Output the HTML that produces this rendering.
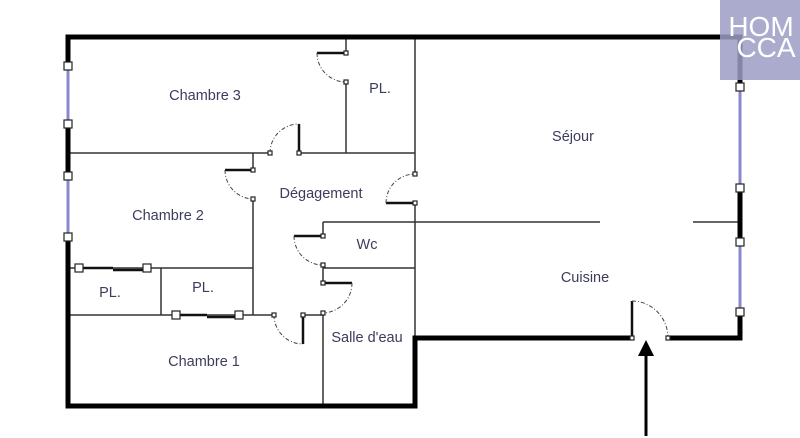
<!DOCTYPE html>
<html><head><meta charset="utf-8"><style>
html,body{margin:0;padding:0;background:#fff;}
svg{display:block;}
text{font-family:"Liberation Sans",sans-serif;font-size:14.5px;fill:#3c3c5c;text-anchor:middle;}
</style></head><body>
<svg width="800" height="438" viewBox="0 0 800 438">
<g stroke="#333" stroke-width="1.5" fill="none">
<line x1="68" y1="153" x2="270" y2="153"/><line x1="299" y1="153" x2="415" y2="153"/>
<line x1="346" y1="37" x2="346" y2="53"/><line x1="346" y1="82" x2="346" y2="153"/>
<line x1="415" y1="37" x2="415" y2="174"/><line x1="415" y1="203" x2="415" y2="338"/>
<line x1="253" y1="153" x2="253" y2="170"/><line x1="253" y1="199" x2="253" y2="315"/>
<line x1="323" y1="222" x2="600" y2="222"/><line x1="693" y1="222" x2="740" y2="222"/>
<line x1="323" y1="222" x2="323" y2="236"/><line x1="323" y1="265" x2="323" y2="283"/><line x1="323" y1="313" x2="323" y2="406"/>
<line x1="323" y1="268" x2="415" y2="268"/>
<line x1="68" y1="268" x2="253" y2="268"/>
<line x1="161" y1="268" x2="161" y2="315"/>
<line x1="68" y1="315" x2="274" y2="315"/><line x1="303" y1="315" x2="323" y2="315"/>
</g>
<g stroke="#111" stroke-width="2.5">
<line x1="317" y1="53" x2="346" y2="53"/>
<line x1="299" y1="124" x2="299" y2="153"/>
<line x1="225" y1="170" x2="253" y2="170"/>
<line x1="386" y1="203" x2="415" y2="203"/>
<line x1="294" y1="236" x2="323" y2="236"/>
<line x1="323" y1="283" x2="352" y2="283"/>
<line x1="303" y1="315" x2="303" y2="344"/>
<line x1="632" y1="301" x2="632" y2="338"/>
<line x1="79" y1="268" x2="113" y2="268"/><line x1="113" y1="270" x2="147" y2="270"/>
<line x1="176" y1="315" x2="207" y2="315"/><line x1="207" y1="317" x2="239" y2="317"/>
</g>
<g stroke="#444" stroke-width="1" fill="none" stroke-dasharray="4,2,1,2">
<path d="M317 53 A29 29 0 0 0 346 82"/>
<path d="M270 153 A29 29 0 0 1 299 124"/>
<path d="M225 170 A29 29 0 0 0 253 199"/>
<path d="M386 203 A29 29 0 0 1 415 174"/>
<path d="M294 236 A29 29 0 0 0 323 265"/>
<path d="M352 283 A30 30 0 0 1 323 313"/>
<path d="M274 315 A29 29 0 0 0 303 344"/>
<path d="M632 301 A36 37 0 0 1 668 338"/>
</g>
<g stroke="#000" stroke-width="5" fill="none" stroke-linejoin="miter">
<path d="M68 66 L68 37 L740 37 L740 87"/>
<line x1="68" y1="124" x2="68" y2="176"/>
<path d="M68 237 L68 406 L415 406 L415 338 L632 338"/>
<path d="M668 338 L740 338 L740 312"/>
<line x1="740" y1="188" x2="740" y2="242"/>
</g>
<g stroke="#8888cc" stroke-width="3">
<line x1="68" y1="66" x2="68" y2="124"/><line x1="68" y1="176" x2="68" y2="237"/>
<line x1="740" y1="87" x2="740" y2="188"/><line x1="740" y1="242" x2="740" y2="312"/>
</g>
<g fill="#fff" stroke="#222" stroke-width="1.2">
<rect x="64" y="62" width="8" height="8"/><rect x="64" y="120" width="8" height="8"/>
<rect x="64" y="172" width="8" height="8"/><rect x="64" y="233" width="8" height="8"/>
<rect x="736" y="83" width="8" height="8"/><rect x="736" y="184" width="8" height="8"/>
<rect x="736" y="238" width="8" height="8"/><rect x="736" y="308" width="8" height="8"/>
<rect x="75" y="264" width="8" height="8"/><rect x="143" y="264" width="8" height="8"/>
<rect x="172" y="311" width="8" height="8"/><rect x="235" y="311" width="8" height="8"/>
<rect x="344" y="51" width="4" height="4"/><rect x="344" y="80" width="4" height="4"/>
<rect x="268" y="151" width="4" height="4"/><rect x="297" y="151" width="4" height="4"/>
<rect x="251" y="168" width="4" height="4"/><rect x="251" y="197" width="4" height="4"/>
<rect x="413" y="172" width="4" height="4"/><rect x="413" y="201" width="4" height="4"/>
<rect x="321" y="234" width="4" height="4"/><rect x="321" y="263" width="4" height="4"/>
<rect x="321" y="281" width="4" height="4"/><rect x="321" y="311" width="4" height="4"/>
<rect x="272" y="313" width="4" height="4"/><rect x="301" y="313" width="4" height="4"/>
<rect x="630" y="336" width="4" height="4"/><rect x="666" y="336" width="4" height="4"/>
</g>
<line x1="646" y1="436" x2="646" y2="352" stroke="#000" stroke-width="3"/>
<polygon points="646,340 638,356 654,356" fill="#000"/>
<text x="205" y="100">Chambre 3</text>
<text x="380" y="93">PL.</text>
<text x="573" y="141">Séjour</text>
<text x="321" y="198">Dégagement</text>
<text x="168" y="220">Chambre 2</text>
<text x="367" y="249">Wc</text>
<text x="110" y="297">PL.</text>
<text x="203" y="292">PL.</text>
<text x="585" y="282">Cuisine</text>
<text x="367" y="342">Salle d'eau</text>
<text x="204" y="366">Chambre 1</text>
<rect x="720" y="0" width="80" height="80" fill="#9c9dc4" fill-opacity="0.85"/>
<text x="761" y="36" style="font-size:28px;fill:#fff;font-weight:300">HOM</text>
<text x="766" y="57" style="font-size:28px;fill:#fff;font-weight:300">CCA</text>
</svg>
</body></html>
